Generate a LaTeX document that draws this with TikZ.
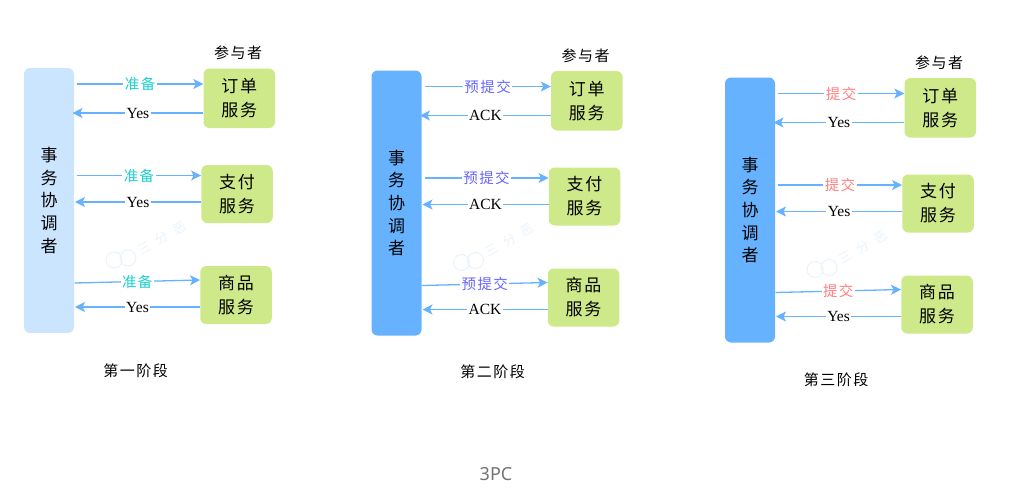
\documentclass[tikz,border=0pt]{standalone}
\usepackage{fontspec}
\setmainfont{Liberation Serif}
\newfontfamily\cjk[LetterSpace=10]{Noto Sans CJK SC}
\newfontfamily\capfont{Noto Sans}
\usetikzlibrary{arrows.meta}
\definecolor{paleblue}{HTML}{CCE5FF}
\definecolor{deepblue}{HTML}{66B2FF}
\definecolor{svcgreen}{HTML}{CDE98A}
\definecolor{msgcyan}{HTML}{1BCFCF}
\definecolor{msgviolet}{HTML}{6666FF}
\definecolor{msgred}{HTML}{FF7F7F}
\definecolor{markgray}{HTML}{E9F3FB}
\tikzset{
	coorbox/.style={rounded corners=6pt, minimum width=50pt, minimum height=265pt, inner sep=0pt, align=center, font=\cjk\fontsize{17}{22.7}\selectfont},
	svcbox/.style={fill=svcgreen, rounded corners=6pt, minimum width=71.5pt, inner sep=0pt, align=center, font=\cjk\fontsize{17}{24}\selectfont},
	msgline/.style={draw=deepblue, line width=1.3pt, -{Stealth[length=10pt,width=10pt,inset=2.5pt]}},
	msgtext/.style={fill=white, inner sep=1.5pt, font=\cjk\fontsize{14.5}{16}\selectfont},
	replytext/.style={fill=white, inner sep=1.5pt, text=black, font=\fontsize{15.5}{16}\selectfont},
	headtext/.style={inner sep=0pt, font=\cjk\fontsize{15}{16}\selectfont},
}
\begin{document}
\begin{tikzpicture}[x=1pt, y=-1pt, line join=round]
	\useasboundingbox (0,0) rectangle (1018,493);
	\foreach \p/\dx/\dy/\coorcol/\msg/\msgcol/\reply/\stage/\heady/\stagex/\stagey in {
		A/0/0/paleblue/准备/msgcyan/Yes/第一阶段/52.5/135.5/370.5,
		B/347.5/2.5/deepblue/预提交/msgviolet/ACK/第二阶段/53/145/369,
		C/701/9.5/deepblue/提交/msgred/Yes/第三阶段/53/135/370} {
		\begin{scope}[shift={(\dx,\dy)}]
			\draw[markgray, line width=1pt] (114,260) circle (8) (128,258) circle (8);
			\node[rotate=30, text=markgray, inner sep=0pt, font=\cjk\fontsize{13}{16}\selectfont] (mark\p) at (162,238) {三\hspace{7pt}分\hspace{7pt}恶};
			\node[coorbox, fill=\coorcol] (coor\p) at (49,200.5) {事\\务\\协\\调\\者};
			\node[svcbox, minimum height=59.5pt] (order\p) at (239.25,98.25) {订单\\服务};
			\node[svcbox, minimum height=58pt] (pay\p) at (237,194) {支付\\服务};
			\node[svcbox, minimum height=58pt] (goods\p) at (236,295) {商品\\服务};
			\node[headtext] (head\p) at (238,\heady) {参与者};
			\node[headtext] (stage\p) at (\stagex,\stagey) {\stage};
			\path
			(77,84) coordinate (ordera\p)
			(72.5,113) coordinate (orderb\p)
			(77,175.5) coordinate (paya\p)
			(75,202) coordinate (payb\p)
			(74.5,283) coordinate (goodsa\p)
			(200,280) coordinate (goodsc\p)
			(75,307) coordinate (goodsb\p);
			\draw[msgline] (ordera\p) -- node[msgtext, text=\msgcol] (orderm\p) {\msg} (order\p.west |- ordera\p);
			\draw[msgline] (order\p.west |- orderb\p) -- node[replytext] (orderr\p) {\reply} (orderb\p);
			\draw[msgline] (paya\p) -- node[msgtext, text=\msgcol] (paym\p) {\msg} (pay\p.west |- paya\p);
			\draw[msgline] (pay\p.west |- payb\p) -- node[replytext] (payr\p) {\reply} (payb\p);
			\draw[msgline] (goodsa\p) -- node[msgtext, text=\msgcol] (goodsm\p) {\msg} (goods\p.west |- goodsc\p);
			\draw[msgline] (goods\p.west |- goodsb\p) -- node[replytext] (goodsr\p) {\reply} (goodsb\p);
		\end{scope}
	}
	\node[text=black!55, inner sep=0pt, font=\capfont\fontsize{18}{20}\selectfont] (caption) at (496,474) {3PC};
\end{tikzpicture}
\end{document}
